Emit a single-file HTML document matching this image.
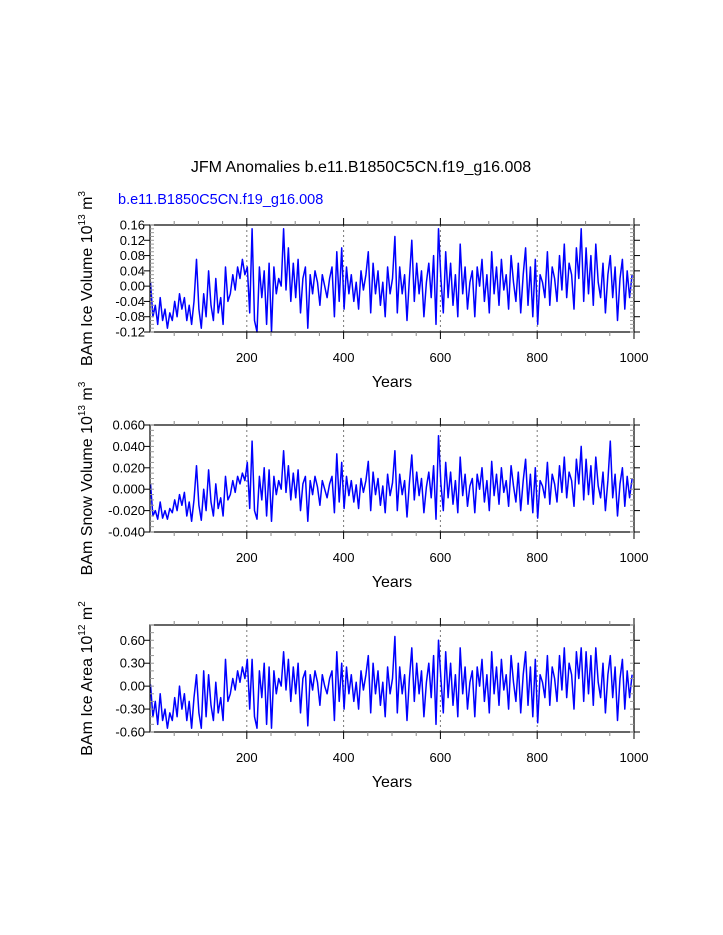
<!DOCTYPE html>
<html><head><meta charset="utf-8"><style>
body{margin:0;background:#fff}
svg{display:block;font-family:"Liberation Sans",sans-serif}
</style></head><body>
<svg id="c" width="723" height="935" viewBox="0 0 723 935">
<text x="361" y="172" text-anchor="middle" font-size="16">JFM Anomalies b.e11.B1850C5CN.f19_g16.008</text>
<text x="118" y="204" font-size="14.5" fill="#0000ff">b.e11.B1850C5CN.f19_g16.008</text>
</svg>
<script>
const xTicks=[200,400,600,800,1000];
const iceVolume=[0.01,-0.08,-0.05,-0.10,-0.03,-0.09,-0.06,-0.11,-0.07,-0.09,-0.04,-0.08,-0.02,-0.06,-0.03,-0.09,-0.05,-0.10,-0.04,0.07,
-0.06,-0.11,-0.02,-0.08,0.04,-0.05,-0.09,0.02,-0.07,-0.03,-0.10,0.05,-0.04,-0.02,0.03,-0.01,0.05,0.02,0.07,0.03,
0.05,-0.07,0.15,-0.09,-0.12,0.05,-0.03,0.04,-0.10,0.06,-0.12,0.05,-0.02,0.02,0.00,0.15,-0.01,0.10,-0.04,0.06,
-0.03,0.07,-0.07,0.02,0.05,-0.11,0.03,-0.02,0.04,0.01,-0.05,0.03,0.00,-0.03,0.02,0.05,-0.08,0.09,-0.04,0.10,
-0.06,0.05,-0.02,0.03,-0.04,0.01,-0.06,0.04,-0.01,0.03,0.09,-0.07,0.06,-0.02,0.04,-0.05,0.01,-0.08,0.05,-0.02,
0.02,0.13,-0.07,0.05,-0.02,0.03,-0.09,0.02,0.12,-0.04,0.06,-0.02,0.04,-0.08,0.01,0.06,-0.03,0.08,-0.10,0.15,
0.02,-0.07,0.09,-0.03,0.06,-0.05,0.03,-0.08,0.11,-0.02,0.05,-0.06,0.01,0.04,-0.08,0.05,0.00,0.07,-0.04,0.03,
-0.07,0.09,-0.02,0.05,-0.05,0.07,-0.01,0.03,-0.06,0.08,0.01,-0.04,0.06,-0.07,0.03,0.10,-0.05,0.05,-0.08,0.07,
-0.10,0.03,0.01,-0.03,0.09,-0.05,0.05,0.02,-0.04,0.08,-0.01,0.11,-0.03,0.06,0.03,-0.06,0.10,0.02,0.15,-0.04,
0.10,-0.02,0.08,-0.05,0.11,0.01,-0.03,0.06,-0.07,0.03,0.08,-0.03,0.05,-0.09,0.02,0.07,-0.06,0.04,-0.03,0.03];
const snowVolume=[0.005,-0.025,-0.020,-0.028,-0.012,-0.027,-0.020,-0.028,-0.018,-0.022,-0.010,-0.020,-0.005,-0.015,-0.003,-0.025,-0.012,-0.030,-0.010,0.022,
-0.015,-0.029,0.000,-0.020,0.018,-0.012,-0.025,0.005,-0.018,-0.008,-0.025,0.012,-0.010,-0.005,0.008,-0.003,0.012,0.005,0.015,0.008,
0.025,-0.018,0.045,-0.020,-0.028,0.012,-0.010,0.020,-0.025,0.018,-0.030,0.012,-0.005,0.008,0.000,0.036,-0.003,0.022,-0.010,0.015,
-0.008,0.018,-0.020,0.005,0.012,-0.030,0.008,-0.005,0.012,0.002,-0.015,0.008,0.000,-0.008,0.005,0.012,-0.022,0.033,-0.012,0.025,
-0.018,0.012,-0.006,0.008,-0.012,0.004,-0.018,0.010,-0.003,0.008,0.026,-0.020,0.016,-0.005,0.010,-0.015,0.003,-0.022,0.014,-0.006,
0.006,0.036,-0.020,0.014,-0.005,0.008,-0.026,0.006,0.032,-0.010,0.016,-0.006,0.010,-0.022,0.002,0.016,-0.008,0.022,-0.028,0.050,
0.005,-0.020,0.025,-0.008,0.016,-0.014,0.008,-0.022,0.030,-0.006,0.014,-0.016,0.003,0.010,-0.022,0.014,0.000,0.020,-0.012,0.008,
-0.020,0.026,-0.006,0.014,-0.014,0.020,-0.003,0.008,-0.016,0.022,0.003,-0.012,0.016,-0.020,0.008,0.028,-0.014,0.014,-0.022,0.020,
-0.027,0.008,0.003,-0.008,0.025,-0.014,0.014,0.005,-0.012,0.022,-0.003,0.030,-0.008,0.016,0.008,-0.016,0.028,0.005,0.040,-0.010,
0.028,-0.005,0.022,-0.014,0.030,0.003,-0.008,0.016,-0.020,0.008,0.045,-0.008,0.014,-0.025,0.005,0.020,-0.016,0.012,-0.008,0.010];
const iceArea=[0.02,-0.40,-0.20,-0.50,-0.10,-0.45,-0.30,-0.55,-0.35,-0.45,-0.15,-0.40,0.00,-0.30,-0.10,-0.45,-0.20,-0.55,-0.15,0.15,
-0.35,-0.55,0.20,-0.40,0.15,-0.25,-0.45,0.05,-0.35,-0.15,-0.45,0.35,-0.20,-0.10,0.10,-0.05,0.20,0.05,0.25,0.10,
0.35,-0.30,0.35,-0.40,-0.55,0.20,-0.15,0.30,-0.50,0.25,-0.55,0.20,-0.10,0.10,0.00,0.45,-0.05,0.35,-0.20,0.25,
-0.10,0.30,-0.35,0.10,0.20,-0.52,0.15,-0.05,0.20,0.05,-0.25,0.15,0.00,-0.10,0.10,0.20,-0.45,0.45,-0.20,0.30,
-0.30,0.25,-0.10,0.15,-0.20,0.05,-0.30,0.20,-0.05,0.15,0.40,-0.35,0.30,-0.10,0.20,-0.25,0.05,-0.40,0.25,-0.10,
0.10,0.65,-0.35,0.25,-0.10,0.15,-0.45,0.10,0.50,-0.20,0.30,-0.10,0.20,-0.40,0.05,0.30,-0.15,0.40,-0.50,0.60,
0.10,-0.35,0.45,-0.15,0.30,-0.25,0.15,-0.40,0.50,-0.10,0.25,-0.30,0.05,0.20,-0.40,0.25,0.00,0.35,-0.20,0.15,
-0.35,0.45,-0.10,0.25,-0.25,0.35,-0.05,0.15,-0.30,0.40,0.05,-0.20,0.30,-0.35,0.15,0.45,-0.25,0.25,-0.40,0.35,
-0.48,0.15,0.05,-0.15,0.40,-0.25,0.25,0.10,-0.20,0.40,-0.05,0.50,-0.15,0.30,0.15,-0.30,0.45,0.10,0.50,-0.20,
0.45,-0.10,0.40,-0.25,0.50,0.05,-0.15,0.30,-0.35,0.15,0.40,-0.15,0.25,-0.45,0.10,0.35,-0.30,0.20,-0.15,0.15];
const iceVolTicks=["0.16","0.12","0.08","0.04","0.00","-0.04","-0.08","-0.12"];
const snowTicks=["0.060","0.040","0.020","0.000","-0.020","-0.040"];
const areaTicks=["0.60","0.30","0.00","-0.30","-0.60"];

const NS="http://www.w3.org/2000/svg";
const svg=document.getElementById('c');
function mk(tag,attrs,parent){const e=document.createElementNS(NS,tag);for(const k in attrs)e.setAttribute(k,attrs[k]);(parent||svg).appendChild(e);return e;}
const L=150,R=634;
const sx=v=>L+(v/1000)*(R-L);

function panel(p){
  const g=mk('g',{});
  
  
  const sy=v=>p.top+(p.max-v)/(p.max-p.min)*(p.bot-p.top);
  // reference lines
  [200,400,600,800].forEach(t=>{
    const l=mk('line',{x1:sx(t),x2:sx(t),y1:p.top,y2:p.bot,stroke:'#777','stroke-width':1,'stroke-dasharray':'2,3'},g);
    
    
  });
  // series
  const pts=p.data.map((v,i)=>sx(i*5+1).toFixed(1)+','+sy(v).toFixed(1)).join(' ');
  const ln=mk('polyline',{points:pts,fill:'none',stroke:'#0000ff','stroke-width':1.5,'stroke-linejoin':'round'},g);
  
  
  // frame
  const fr=mk('rect',{x:L,y:p.top,width:R-L,height:p.bot-p.top,fill:'none',stroke:'#000','stroke-width':1.2},g);
  
  
  // x ticks
  for(let t=50;t<=1000;t+=50){
    const major=t%200===0, len=major?7:4;
    const x=sx(t);
    mk('line',{x1:x,x2:x,y1:p.top,y2:p.top-len,stroke:major?'#000':'#888','stroke-width':1},g);
    mk('line',{x1:x,x2:x,y1:p.bot,y2:p.bot+len,stroke:major?'#000':'#888','stroke-width':1},g);
  }
  xTicks.forEach(t=>{
    const tx=mk('text',{x:sx(t),y:p.bot+30,'text-anchor':'middle','font-size':13},g);
    tx.textContent=t;
    
    
  });
  // y ticks
  const n=p.ticks.length;
  p.ticks.forEach((lab,i)=>{
    const v=p.tickMax-i*p.step, y=sy(v);
    mk('line',{x1:L,x2:L-6,y1:y,y2:y,stroke:'#000'},g);
    mk('line',{x1:R,x2:R+6,y1:y,y2:y,stroke:'#000'},g);
    const tx=mk('text',{x:L-5,y:y+4.5,'text-anchor':'end','font-size':13},g);
    tx.textContent=lab;
    
    
  });
  for(let v=p.min;v<=p.max+1e-9;v+=p.minor){
    const y=sy(v);
    mk('line',{x1:L,x2:L+4,y1:y,y2:y,stroke:'#999'},g);
    mk('line',{x1:R,x2:R-4,y1:y,y2:y,stroke:'#999'},g);
  }
  // x title
  const xt=mk('text',{x:392,y:p.bot+55,'text-anchor':'middle','font-size':16},g);
  xt.textContent='Years';
  
  
  // y title
  const cy=(p.top+p.bot)/2+p.yoff;
  const yt=mk('text',{x:0,y:0,'text-anchor':'middle','font-size':16,transform:`translate(92,${cy}) rotate(-90)`},g);
  
  
  yt.innerHTML=p.label+' 10<tspan font-size="10" dy="-7">'+p.exp+'</tspan><tspan dy="7"> m</tspan><tspan font-size="10" dy="-7">'+p.mexp+'</tspan>';
}
panel({name:'ice-volume-panel',top:225,bot:332,min:-0.12,max:0.16,tickMax:0.16,step:0.04,minor:0.01,ticks:iceVolTicks,data:iceVolume,label:'BAm Ice Volume',exp:'13',mexp:'3',yoff:0});
panel({name:'snow-volume-panel',top:425,bot:532,min:-0.04,max:0.06,tickMax:0.06,step:0.02,minor:0.005,ticks:snowTicks,data:snowVolume,label:'BAm Snow Volume',exp:'13',mexp:'3',yoff:0});
panel({name:'ice-area-panel',top:625,bot:732,min:-0.6,max:0.8,tickMax:0.6,step:0.3,minor:0.1,ticks:areaTicks,data:iceArea,label:'BAm Ice Area',exp:'12',mexp:'2',yoff:0});
</script>
</body></html>
